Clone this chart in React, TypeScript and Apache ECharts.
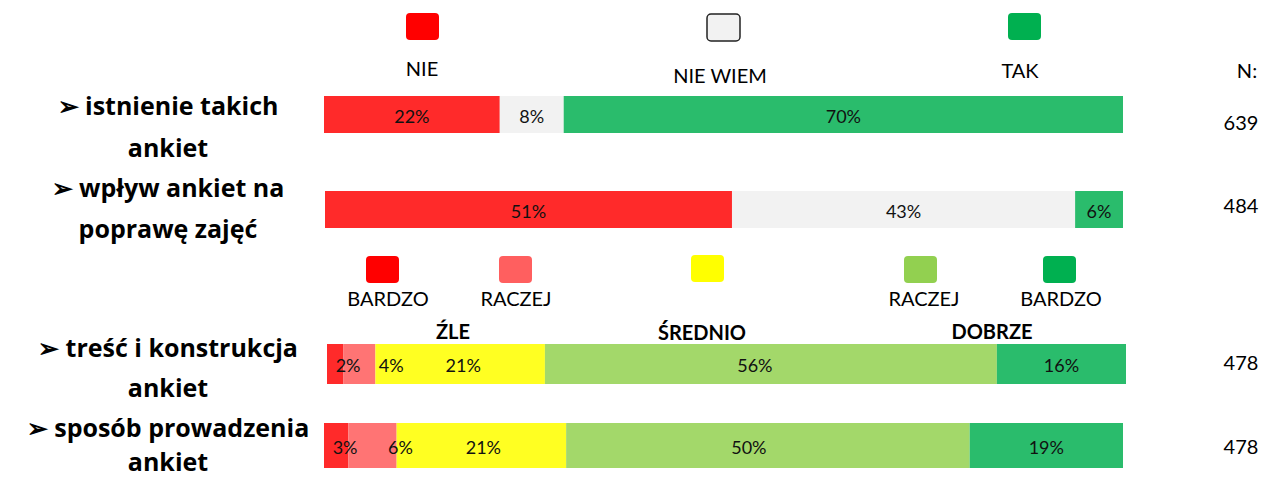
import React, { useEffect, useRef } from "react";
import * as echarts from "echarts";

// ---- data ----
const questionLabels = [
  ["➢ istnienie takich", "ankiet"],
  ["➢ wpływ ankiet na", "poprawę zajęć"],
  ["➢ treść i konstrukcja", "ankiet"],
  ["➢ sposób prowadzenia", "ankiet"],
];
const ynCategories = ["NIE", "NIE WIEM", "TAK"];
const istnienieValues = [22, 8, 70];
const wplywValues = [51, 43, 6];
const ratingCategories = ["BARDZO ŹLE", "RACZEJ ŹLE", "ŚREDNIO", "RACZEJ DOBRZE", "BARDZO DOBRZE"];
const trescValues = [2, 4, 21, 56, 16];
const sposobValues = [3, 6, 21, 50, 19];
const nValues = [639, 484, 478, 478];

// ---- styles ----
const ynBarColors = ["#FF2A2A", "#F2F2F2", "#2ABC6C"];
const ratingBarColors = ["#FF2A2A", "#FF7474", "#FFFF22", "#A3D86A", "#2ABC6C"];
const FONT = "Lato, 'Noto Sans', sans-serif";
const QFONT = "'Open Sans', Lato, sans-serif";

const grids = [
  { left: 324, top: 96, width: 799, height: 37 },
  { left: 325, top: 191, width: 798, height: 37 },
  { left: 327, top: 344, width: 799, height: 40 },
  { left: 324, top: 423, width: 799, height: 45 },
];
const labelOffsets = [
  [0, 0, 0],
  [0, 0, 0],
  [13, 32, 3, -16, 0],
  [9, 28, 2, -19, 0],
];

const rows = [
  { cats: ynCategories, values: istnienieValues, colors: ynBarColors },
  { cats: ynCategories, values: wplywValues, colors: ynBarColors },
  { cats: ratingCategories, values: trescValues, colors: ratingBarColors },
  { cats: ratingCategories, values: sposobValues, colors: ratingBarColors },
];

function txt(text: string, x: number, y: number, size: number, bold = false, family = FONT) {
  return {
    type: "text",
    silent: true,
    style: {
      text,
      x,
      y,
      fill: "#000",
      font: `${bold ? "bold " : ""}${size}px ${family}`,
      textAlign: "center",
      textVerticalAlign: "middle",
      verticalAlign: "middle",
    },
  };
}

function box(x: number, y: number, color: string, stroke?: string) {
  return {
    type: "rect",
    silent: true,
    shape: { x, y, width: 33, height: 27, r: 4 },
    style: { fill: color, stroke: stroke || color, lineWidth: stroke ? 1.5 : 0 },
  };
}

export default function App() {
  const ref = useRef<HTMLDivElement>(null);
  useEffect(() => {
    if (!ref.current) return;
    const chart = echarts.init(ref.current, undefined, { renderer: "svg" });

    const series: any[] = [];
    rows.forEach((row, i) => {
      row.values.forEach((v, j) => {
        series.push({
          type: "bar",
          name: row.cats[j],
          stack: "s" + i,
          xAxisIndex: i,
          yAxisIndex: i,
          barWidth: "100%",
          data: [v],
          itemStyle: { color: row.colors[j] },
          label: {
            show: true,
            position: "inside",
            formatter: `${v}%`,
            color: "#111",
            fontFamily: FONT,
            fontSize: 18,
            offset: [labelOffsets[i][j], 1],
          },
        });
      });
    });

    const graphics: any[] = [];
    // top legend
    graphics.push(box(406, 13, "#FF0000"));
    graphics.push(box(707, 14, "#F2F2F2", "#222"));
    graphics.push(box(1008, 13, "#00B050"));
    graphics.push(txt(ynCategories[0], 422, 68, 20));
    graphics.push(txt(ynCategories[1], 720, 75, 20));
    graphics.push(txt(ynCategories[2], 1020, 70, 20));
    graphics.push(txt("N:", 1247, 70, 20));
    // second legend
    graphics.push(box(366, 256, "#FF0000"));
    graphics.push(box(499, 256, "#FF5F5F"));
    graphics.push(box(691, 255, "#FFFF00"));
    graphics.push(box(904, 256, "#92D050"));
    graphics.push(box(1043, 256, "#00B050"));
    graphics.push(txt("BARDZO", 388, 298, 20));
    graphics.push(txt("RACZEJ", 516, 298, 20));
    graphics.push(txt("RACZEJ", 924, 298, 20));
    graphics.push(txt("BARDZO", 1061, 298, 20));
    graphics.push(txt("ŹLE", 453, 331, 20, true));
    graphics.push({
      type: "rect",
      silent: true,
      shape: { x: 621, y: 318, width: 162, height: 26 },
      style: { fill: "#fff" },
    });
    graphics.push(txt("ŚREDNIO", 702, 332, 20, true));
    graphics.push(txt("DOBRZE", 992, 331, 20, true));
    // question labels
    const qY = [[105, 147], [187, 228], [347, 387], [427, 461]];
    questionLabels.forEach((lines, i) => {
      graphics.push(txt(lines[0], 168, qY[i][0], 25, true, QFONT));
      graphics.push(txt(lines[1], 168, qY[i][1], 25, true, QFONT));
    });
    // N values
    const nY = [122, 205, 362, 446];
    nValues.forEach((n, i) => graphics.push(txt(String(n), 1241, nY[i], 20)));

    chart.setOption({
      animation: false,
      backgroundColor: "#fff",
      grid: grids.map((g) => ({ ...g, containLabel: false })),
      xAxis: rows.map((row, i) => ({
        type: "value",
        gridIndex: i,
        min: 0,
        max: row.values.reduce((a, b) => a + b, 0),
        show: false,
      })),
      yAxis: rows.map((row, i) => ({
        type: "category",
        gridIndex: i,
        data: [questionLabels[i].join(" ")],
        show: false,
      })),
      series,
      graphic: graphics,
    });

    return () => chart.dispose();
  }, []);

  return (
    <div
      ref={ref}
      style={{ position: "fixed", left: 0, top: 0, width: 1263, height: 480, background: "#fff" }}
    />
  );
}
